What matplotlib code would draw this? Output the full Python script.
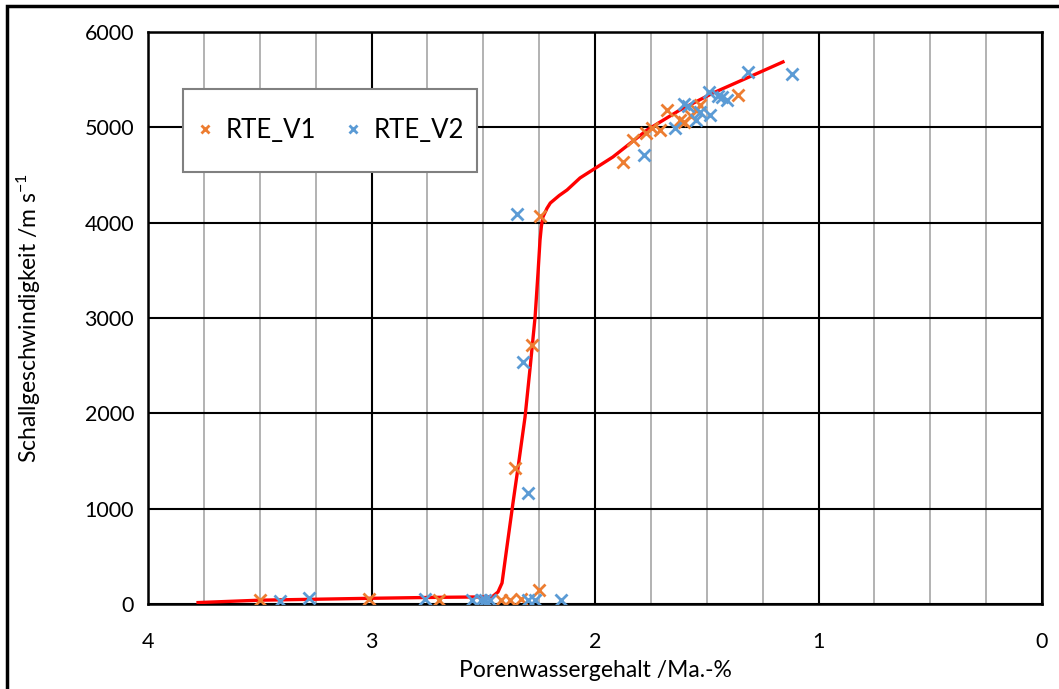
import matplotlib
matplotlib.use("Agg")
import matplotlib.pyplot as plt
from matplotlib.patches import Rectangle
from matplotlib.ticker import MultipleLocator

plt.rcParams['font.family'] = ['Lato', 'DejaVu Sans']
plt.rcParams['mathtext.fontset'] = 'custom'
plt.rcParams['mathtext.rm'] = 'Lato'
plt.rcParams['mathtext.it'] = 'Lato'

# --- data ---
v1_x = [3.50, 3.01, 2.70, 2.42, 2.38, 2.33, 2.25,
        2.36, 2.28, 2.246,
        1.875, 1.83, 1.77, 1.745, 1.71, 1.68, 1.62, 1.60, 1.57, 1.55, 1.53, 1.36]
v1_y = [45, 50, 45, 40, 45, 50, 145,
        1427, 2717, 4070,
        4637, 4867, 4941, 4993, 4972, 5182, 5077, 5056, 5120, 5180, 5230, 5340]

v2_x = [3.41, 3.28, 2.76, 2.55, 2.51, 2.49, 2.47, 2.30, 2.27, 2.15,
        2.30, 2.32, 2.35,
        1.78, 1.64, 1.60, 1.585, 1.55, 1.53, 1.485, 1.49, 1.45, 1.43, 1.41, 1.315, 1.12]
v2_y = [35, 60, 50, 40, 40, 45, 40, 40, 45, 40,
        1164, 2538, 4091,
        4710, 4993, 5245, 5220, 5077, 5160, 5130, 5371, 5329, 5318, 5287, 5581, 5560]

fit_x = [3.776, 3.50, 3.00, 2.70, 2.46, 2.434, 2.416, 2.394, 2.367, 2.344, 2.313,
         2.29, 2.268, 2.255, 2.246, 2.240, 2.233, 2.215, 2.20, 2.16, 2.125, 2.067,
         1.92, 1.767, 1.62, 1.472, 1.32, 1.159]
fit_y = [15, 40, 60, 70, 75, 126, 220, 600, 1060, 1437, 1962,
         2486, 3011, 3472, 3818, 3960, 4060, 4150, 4206, 4285, 4343, 4469,
         4689, 4972, 5182, 5360, 5518, 5686]

series_labels = ["RTE_V1", "RTE_V2"]
x_label = "Porenwassergehalt /Ma.-%"
y_label = "Schallgeschwindigkeit /m s$^{-1}$"

W, H = 1059, 689
fig = plt.figure(figsize=(W / 100, H / 100), dpi=100)
ax = fig.add_axes([148 / W, 1 - 604 / H, (1042 - 148) / W, (604 - 32) / H])

ax.set_xlim(4, 0)
ax.set_ylim(0, 6000)
ax.xaxis.set_major_locator(MultipleLocator(1))
ax.xaxis.set_minor_locator(MultipleLocator(0.25))
ax.yaxis.set_major_locator(MultipleLocator(1000))

ax.grid(which='minor', axis='x', color='#A6A6A6', lw=1.2)
ax.grid(which='major', axis='both', color='black', lw=1.5)
ax.set_axisbelow(True)
for s in ax.spines.values():
    s.set_color('black')
    s.set_linewidth(1.8)
ax.tick_params(which='both', length=0, labelsize=15.5)
ax.tick_params(axis='x', pad=20)
ax.tick_params(axis='y', pad=10)

ax.plot(fit_x, fit_y, color='#FF0000', lw=2.4, zorder=3)
ax.plot(v1_x, v1_y, ls='none', marker='x', ms=8, mew=2, color='#ED7D31',
        label=series_labels[0], zorder=4)
ax.plot(v2_x, v2_y, ls='none', marker='x', ms=8, mew=2, color='#5B9BD5',
        label=series_labels[1], zorder=4)

leg_box = (0.039, 0.755, 0.329, 0.145)
ax.add_patch(Rectangle(leg_box[:2], leg_box[2], leg_box[3], transform=ax.transAxes,
                       facecolor='white', edgecolor='#808080', lw=1.5, zorder=4.5))
leg = ax.legend(loc='center', bbox_to_anchor=leg_box,
                ncol=2, fontsize=18.5, frameon=False, markerscale=0.75,
                handlelength=0.7, handletextpad=0.45, columnspacing=1.1,
                borderpad=0, borderaxespad=0)
leg.set_zorder(5)

ax.set_xlabel(x_label, fontsize=16.5, labelpad=6)
ax.set_ylabel(y_label, fontsize=16.5, labelpad=30)

fig.patches.append(Rectangle((7 / W, -0.2), 1.5, 1 - 6 / H + 0.2,
                             transform=fig.transFigure, fill=False,
                             edgecolor='black', lw=2.5))

fig.savefig("out.png", dpi=100)
